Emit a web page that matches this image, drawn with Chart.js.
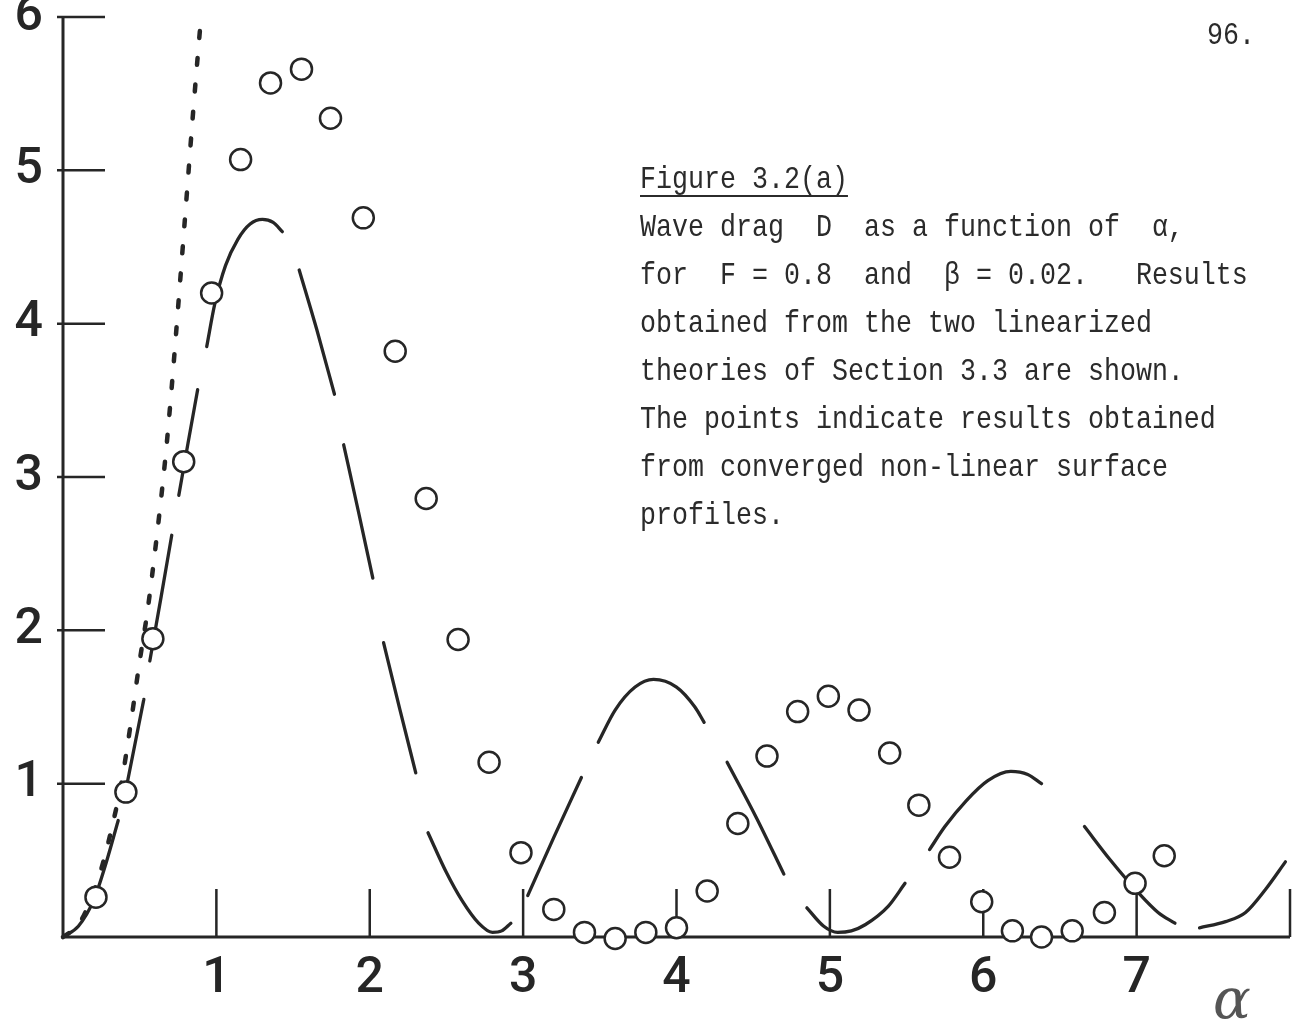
<!DOCTYPE html>
<html>
<head>
<meta charset="utf-8">
<script src="https://cdn.jsdelivr.net/npm/chart.js@4.4.1/dist/chart.umd.min.js"></script>
<style>
  html, body { margin: 0; padding: 0; background: #fff; }
  #wrap { position: relative; width: 1303px; height: 1026px; overflow: hidden; }
  #wrap canvas { position: absolute; left: 0; top: 0; }
  .mono {
    position: absolute;
    font-family: 'Liberation Mono', 'DejaVu Sans Mono', monospace;
    font-size: 32px;
    line-height: 48px;
    color: #2b2b2b;
    white-space: pre;
    transform-origin: 0 0;
    transform: scaleX(0.833);
  }
  .title { text-decoration: underline; text-decoration-thickness: 2px; text-underline-offset: 7px; }
  #alpha {
    position: absolute; left: 1213px; top: 966px;
    font-family: 'DejaVu Serif', serif; font-style: italic; font-size: 56px;
    color: #555;
  }
</style>
</head>
<body>
<div id="wrap">
  <canvas id="ctx" width="1303" height="1026"></canvas>
  <div class="mono" style="left:1207px; top:12px;">96.</div>
  <div class="mono" style="left:640px; top:156px;"><span class="title">Figure 3.2(a)</span>
Wave drag  D  as a function of  α,
for  F = 0.8  and  β = 0.02.   Results
obtained from the two linearized
theories of Section 3.3 are shown.
The points indicate results obtained
from converged non-linear surface
profiles.</div>
  <div id="alpha">α</div>
</div>
<script>
// tick values
const xTicks = [1, 2, 3, 4, 5, 6, 7];
const yTicks = [1, 2, 3, 4, 5, 6];

// converged non-linear results (open circles)
const nonlinAlpha = [0.215, 0.41, 0.586, 0.787, 0.969, 1.158, 1.353, 1.555, 1.744, 1.958,
  2.166, 2.368, 2.576, 2.778, 2.986, 3.20, 3.40, 3.60, 3.80, 4.00,
  4.20, 4.40, 4.59, 4.79, 4.99, 5.19, 5.39, 5.58, 5.78, 5.99,
  6.19, 6.38, 6.58, 6.79, 6.99, 7.18];
const nonlinDrag = [0.26, 0.945, 1.945, 3.10, 4.20, 5.07, 5.57, 5.66, 5.34, 4.69,
  3.82, 2.86, 1.94, 1.14, 0.55, 0.18, 0.03, -0.01, 0.03, 0.06,
  0.30, 0.74, 1.18, 1.47, 1.57, 1.48, 1.20, 0.86, 0.52, 0.23,
  0.04, 0.0, 0.04, 0.16, 0.35, 0.53];

// first linearized theory (short dashes)
const dottedAlpha = [0, 0.10, 0.18, 0.26, 0.32, 0.38, 0.44, 0.50, 0.55, 0.61, 0.67, 0.71, 0.75, 0.80, 0.85, 0.90];
const dottedDrag  = [0, 0.08, 0.24, 0.48, 0.72, 1.00, 1.38, 1.80, 2.12, 2.60, 3.15, 3.60, 4.10, 4.75, 5.40, 6.00];

// second linearized theory (long dashes, null = gap between dashes)
const linearAlpha = [
  0, 0.10, 0.20, 0.28, 0.36, null,
  0.41, 0.527, null,
  0.566, 0.64, 0.709, null,
  0.755, 0.815, 0.878, null,
  0.937, 0.99, 1.06, 1.14, 1.22, 1.30, 1.37, 1.43, null,
  1.54, 1.655, 1.77, null,
  1.83, 1.925, 2.02, null,
  2.09, 2.195, 2.30, null,
  2.38, 2.50, 2.60, 2.71, 2.80, 2.86, 2.92, null,
  3.03, 3.20, 3.38, null,
  3.49, 3.60, 3.73, 3.85, 4.00, 4.12, 4.18, null,
  4.33, 4.52, 4.70, null,
  4.85, 4.96, 5.05, 5.14, 5.23, 5.38, 5.49, null,
  5.65, 5.75, 5.89, 6.03, 6.18, 6.29, 6.38, null,
  6.66, 6.83, 7.01, 7.14, 7.25, null,
  7.41, 7.58, 7.71, 7.84, 7.97
];
const linearDrag = [
  0, 0.07, 0.24, 0.48, 0.76, null,
  0.96, 1.55, null,
  1.80, 2.22, 2.62, null,
  2.88, 3.22, 3.57, null,
  3.85, 4.13, 4.38, 4.55, 4.65, 4.68, 4.66, 4.60, null,
  4.35, 3.96, 3.54, null,
  3.21, 2.78, 2.34, null,
  1.92, 1.49, 1.07, null,
  0.68, 0.42, 0.24, 0.09, 0.03, 0.04, 0.09, null,
  0.27, 0.65, 1.04, null,
  1.27, 1.48, 1.63, 1.68, 1.63, 1.50, 1.40, null,
  1.14, 0.78, 0.41, null,
  0.19, 0.07, 0.03, 0.04, 0.08, 0.20, 0.35, null,
  0.57, 0.72, 0.89, 1.02, 1.08, 1.06, 1.00, null,
  0.72, 0.50, 0.29, 0.16, 0.09, null,
  0.06, 0.10, 0.16, 0.31, 0.49
];

const toPoints = (xs, ys) => xs.map((x, i) => ({ x: x, y: ys[i] }));
const ink = '#262626';

// axis lines with ticks pointing into the plot, drawn under the data
const inwardAxes = {
  id: 'inwardAxes',
  beforeDatasetsDraw(chart) {
    const { ctx, chartArea: a, scales: { x, y } } = chart;
    ctx.save();
    ctx.strokeStyle = ink;
    ctx.lineWidth = 3;
    ctx.beginPath();
    ctx.moveTo(a.left, a.top);
    ctx.lineTo(a.left, a.bottom);
    ctx.lineTo(a.right, a.bottom);
    ctx.stroke();
    ctx.lineWidth = 2.5;
    ctx.beginPath();
    yTicks.forEach(v => {
      const py = y.getPixelForValue(v);
      ctx.moveTo(a.left - 6, py);
      ctx.lineTo(a.left + 42, py);
    });
    xTicks.concat([x.max]).forEach(v => {
      const px = x.getPixelForValue(v);
      ctx.moveTo(px, a.bottom);
      ctx.lineTo(px, a.bottom - 48);
    });
    ctx.stroke();
    ctx.restore();
  }
};

const tickFont = { family: "'Liberation Sans Narrow', 'Roboto', sans-serif", size: 50, weight: '500' };

new Chart(document.getElementById('ctx').getContext('2d'), {
  type: 'scatter',
  data: {
    datasets: [
      {
        label: 'non-linear',
        data: toPoints(nonlinAlpha, nonlinDrag),
        pointStyle: 'circle',
        pointRadius: 10.5,
        pointBorderWidth: 2.5,
        pointBorderColor: ink,
        pointBackgroundColor: '#fff',
        clip: false,
        order: 0
      },
      {
        label: 'linear 2',
        data: toPoints(linearAlpha, linearDrag),
        showLine: true,
        spanGaps: false,
        cubicInterpolationMode: 'monotone',
        borderColor: ink,
        borderWidth: 3.3,
        borderCapStyle: 'round',
        pointRadius: 0,
        clip: false,
        order: 1
      },
      {
        label: 'linear 1',
        data: toPoints(dottedAlpha, dottedDrag),
        showLine: true,
        cubicInterpolationMode: 'monotone',
        borderColor: ink,
        borderWidth: 4.5,
        borderCapStyle: 'round',
        borderDash: [7, 20],
        pointRadius: 0,
        clip: false,
        order: 2
      }
    ]
  },
  options: {
    responsive: false,
    animation: false,
    devicePixelRatio: 1,
    layout: { padding: { top: 17, right: 13, left: 0, bottom: 0 } },
    scales: {
      x: {
        type: 'linear',
        min: 0,
        max: 8,
        afterBuildTicks: s => { s.ticks = xTicks.map(v => ({ value: v })); },
        afterFit: s => { s.height = 89; s.paddingLeft = 0; s.paddingRight = 0; },
        grid: { display: false, drawTicks: false },
        border: { display: false },
        ticks: { autoSkip: false, maxRotation: 0, padding: 12, color: ink, font: tickFont }
      },
      y: {
        type: 'linear',
        min: 0,
        max: 6,
        afterBuildTicks: s => { s.ticks = yTicks.map(v => ({ value: v })); },
        afterFit: s => { s.width = 63; s.paddingTop = 0; s.paddingBottom = 0; },
        grid: { display: false, drawTicks: false },
        border: { display: false },
        ticks: { autoSkip: false, padding: 20, color: ink, font: tickFont }
      }
    },
    plugins: {
      legend: { display: false },
      tooltip: { enabled: false }
    }
  },
  plugins: [inwardAxes]
});
</script>
</body>
</html>
